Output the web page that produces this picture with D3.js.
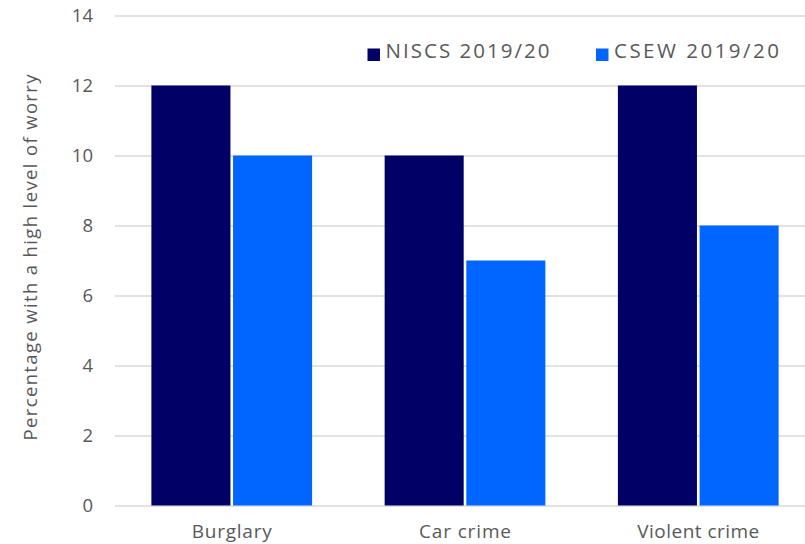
<!DOCTYPE html>
<html>
<head>
<meta charset="utf-8">
<title>High level of worry about crime</title>
<script src="https://cdn.jsdelivr.net/npm/d3@7"></script>
<style>
  body { margin: 0; background: #fff; }
  svg text { font-family: "Century Gothic", Futura, "Open Sans", "Noto Sans", sans-serif; fill: #595959; }
</style>
</head>
<body>
<svg id="chart"></svg>
<script>
const WIDTH = 805;
const HEIGHT = 544;

// chart data
const categories = ["Burglary", "Car crime", "Violent crime"];
const seriesNames = ["NISCS 2019/20", "CSEW 2019/20"];
const niscs = [12, 10, 12];
const csew = [10, 7, 8];
const yTicks = [0, 2, 4, 6, 8, 10, 12, 14];
const colours = ["#000066", "#0066ff"];

// the wide geometric face is not installed, so stretch labels to their natural widths
const catWidths = [80, 92, 122];
const legendWidths = [164, 165];

const margin = { top: 15.5, right: -10, bottom: 38.5, left: 115 };
const innerW = WIDTH - margin.left - margin.right;
const innerH = HEIGHT - margin.top - margin.bottom;

const svg = d3.select("#chart")
  .attr("width", WIDTH)
  .attr("height", HEIGHT);

const g = svg.append("g")
  .attr("transform", `translate(${margin.left},${margin.top})`);

const x = d3.scaleBand()
  .domain(categories)
  .range([0, innerW])
  .paddingInner(0.311)
  .paddingOuter(0.156);

const y = d3.scaleLinear()
  .domain([0, 14])
  .range([innerH, 0]);

const x1 = d3.scaleBand()
  .domain(seriesNames)
  .range([0, x.bandwidth()])
  .paddingInner(0.032);

// gridlines
g.append("g")
  .selectAll("line")
  .data(yTicks)
  .join("line")
  .attr("x1", 0)
  .attr("x2", innerW)
  .attr("y1", d => Math.round(y(d)) + 0.5)
  .attr("y2", d => Math.round(y(d)) + 0.5)
  .attr("stroke", "#d9d9d9")
  .attr("stroke-width", 1.5);

// y tick labels
g.append("g")
  .selectAll("text")
  .data(yTicks)
  .join("text")
  .attr("x", -22)
  .attr("y", d => y(d))
  .attr("dy", "0.35em")
  .attr("text-anchor", "end")
  .style("font-size", "18.5px")
  .text(d => d);

// bars
const rows = categories.map((c, i) => ({ cat: c, values: [niscs[i], csew[i]] }));

const groups = g.append("g")
  .selectAll("g")
  .data(rows)
  .join("g")
  .attr("transform", d => `translate(${x(d.cat)},0)`);

groups.selectAll("rect")
  .data(d => d.values.map((v, j) => ({ key: seriesNames[j], value: v, idx: j })))
  .join("rect")
  .attr("x", d => x1(d.key))
  .attr("width", x1.bandwidth())
  .attr("y", d => y(d.value))
  .attr("height", d => y(0) - y(d.value))
  .attr("fill", d => colours[d.idx]);

// category labels
g.append("g")
  .selectAll("text")
  .data(categories)
  .join("text")
  .attr("x", d => x(d) + x.bandwidth() / 2)
  .attr("y", innerH + 32)
  .attr("text-anchor", "middle")
  .attr("textLength", (d, i) => catWidths[i])
  .attr("lengthAdjust", "spacing")
  .style("font-size", "19px")
  .text(d => d);

// y axis title
svg.append("text")
  .attr("transform", "translate(37,257.5) rotate(-90)")
  .attr("text-anchor", "middle")
  .attr("textLength", 366)
  .attr("lengthAdjust", "spacing")
  .style("font-size", "18.5px")
  .text("Percentage with a high level of worry");

// legend
const legendX = [367.5, 596];
const legend = svg.append("g")
  .selectAll("g")
  .data(seriesNames)
  .join("g")
  .attr("transform", (d, i) => `translate(${legendX[i]},48.5)`);

legend.append("rect")
  .attr("width", 12.5)
  .attr("height", 12.5)
  .attr("fill", (d, i) => colours[i]);

legend.append("text")
  .attr("x", 18)
  .attr("y", 9.5)
  .attr("textLength", (d, i) => legendWidths[i])
  .attr("lengthAdjust", "spacing")
  .style("font-size", "20.5px")
  .text(d => d);
</script>
</body>
</html>
